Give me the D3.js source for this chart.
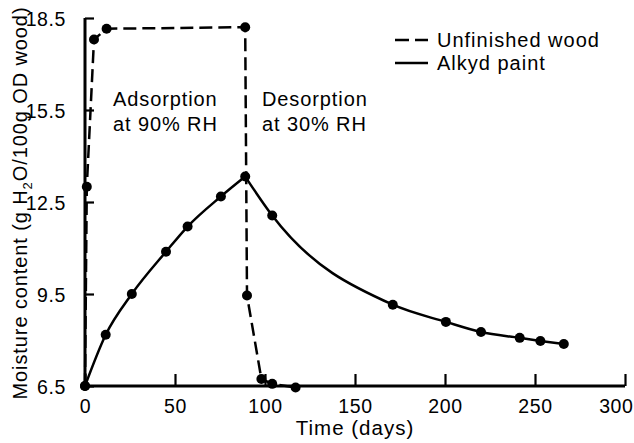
<!DOCTYPE html>
<html>
<head>
<meta charset="utf-8">
<script src="https://cdn.jsdelivr.net/npm/d3@7"></script>
<style>
  html, body { margin: 0; padding: 0; background: #fff; }
  svg text { font-family: "Liberation Sans", Arial, Helvetica, sans-serif; fill: #000; }
</style>
</head>
<body>
<svg id="chart" width="634" height="443"></svg>
<script>
// ---- data ----
const woodDays   = [0, 1, 5, 12, 89, 90, 98, 104, 117];
const woodMC     = [6.5, 13.0, 17.8, 18.15, 18.2, 9.45, 6.73, 6.57, 6.45];
const alkydDays  = [0, 11.5, 26, 45, 57, 75.5, 89, 104, 171, 200.5, 220, 241.5, 253, 266];
const alkydMC    = [6.5, 8.17, 9.5, 10.88, 11.7, 12.68, 13.33, 12.06, 9.15, 8.59, 8.26, 8.07, 7.97, 7.87];
const xTicks     = [0, 50, 100, 150, 200, 250, 300];
const yTicks     = [6.5, 9.5, 12.5, 15.5, 18.5];
const seriesNames = ["Unfinished wood", "Alkyd paint"];

const svg = d3.select("#chart");
const x = d3.scaleLinear().domain([0, 300]).range([85, 625]);
const y = d3.scaleLinear().domain([6.5, 18.5]).range([386, 18]);

const wood  = woodDays.map((d, i) => ({ x: d, y: woodMC[i] }));
const alkyd = alkydDays.map((d, i) => ({ x: d, y: alkydMC[i] }));

// axes
const xAxis = d3.axisBottom(x).tickValues(xTicks).tickSize(-12).tickPadding(16).tickFormat(d3.format("d"));
const yAxis = d3.axisLeft(y).tickValues(yTicks).tickSize(-9).tickPadding(19).tickFormat(d3.format(".1f"));

const gx = svg.append("g").attr("transform", `translate(0,${y(6.5)})`).call(xAxis);
const gy = svg.append("g").attr("transform", `translate(${x(0)},0)`).call(yAxis);
[gx, gy].forEach(g => {
  g.select(".domain").attr("stroke", "#000").attr("stroke-width", 3);
  g.selectAll(".tick line").attr("stroke", "#000").attr("stroke-width", 2.2);
  g.selectAll(".tick text").style("font-size", "19.5px").style("letter-spacing", "0.6px")
    .style("font-family", "'Liberation Sans', Arial, sans-serif").attr("fill", "#000");
});
gx.select(".domain").attr("d", `M${x(0)},0H${x(300)}`);
gy.select(".domain").attr("d", `M0,${y(6.5)}V${y(18.5)}`);
gx.selectAll(".tick text").attr("dy", "0.55em");
gx.selectAll(".tick text").filter(d => d === 300).attr("text-anchor", "end").attr("dx", 8);
gy.selectAll(".tick text").attr("dy", "0.36em");

// lines
const lineWood = d3.line().x(d => x(d.x)).y(d => y(d.y)).curve(d3.curveLinear);
const lineAlkyd = d3.line().x(d => x(d.x)).y(d => y(d.y)).curve(d3.curveMonotoneX);

svg.append("path").datum(wood).attr("d", lineWood)
  .attr("fill", "none").attr("stroke", "#000").attr("stroke-width", 2.5)
  .attr("stroke-dasharray", "13,6");

// alkyd: adsorption and desorption branches meet at the peak
const peak = d3.maxIndex(alkyd, d => d.y);
[alkyd.slice(0, peak + 1), alkyd.slice(peak)].forEach(seg => {
  svg.append("path").datum(seg).attr("d", lineAlkyd)
    .attr("fill", "none").attr("stroke", "#000").attr("stroke-width", 2.5)
    .attr("stroke-linejoin", "miter");
});

svg.append("g").selectAll("circle").data(wood.concat(alkyd)).join("circle")
  .attr("cx", d => x(d.x)).attr("cy", d => y(d.y)).attr("r", 5).attr("fill", "#000");

// legend
const leg = svg.append("g");
seriesNames.forEach((name, i) => {
  const yy = 40 + i * 23;
  leg.append("line").attr("x1", 395).attr("x2", 428).attr("y1", yy).attr("y2", yy)
    .attr("stroke", "#000").attr("stroke-width", 2.6)
    .attr("stroke-dasharray", i === 0 ? "14,6" : null);
  leg.append("text").attr("x", 437).attr("y", yy + 7).text(name)
    .style("font-size", "20px").style("letter-spacing", "1px");
});

// annotations
const ann = [
  { lines: ["Adsorption", "at 90% RH"], px: 113 },
  { lines: ["Desorption", "at 30% RH"], px: 262 }
];
ann.forEach(a => {
  a.lines.forEach((t, i) => {
    svg.append("text").attr("x", a.px).attr("y", 106 + i * 25).text(t)
      .style("font-size", "20px").style("letter-spacing", "0.9px");
  });
});

// axis titles
svg.append("text").attr("x", x(150)).attr("y", 435).attr("text-anchor", "middle")
  .style("font-size", "20.5px").style("letter-spacing", "1px").text("Time (days)");

const yl = svg.append("text").attr("transform", `translate(27,${203}) rotate(-90)`)
  .attr("text-anchor", "middle").style("font-size", "20px").style("letter-spacing", "0.9px");
yl.append("tspan").text("Moisture content (g H");
yl.append("tspan").text("2").style("font-size", "13px").attr("dy", 5);
yl.append("tspan").text("O/100g OD wood)").attr("dy", -5);
</script>
</body>
</html>
